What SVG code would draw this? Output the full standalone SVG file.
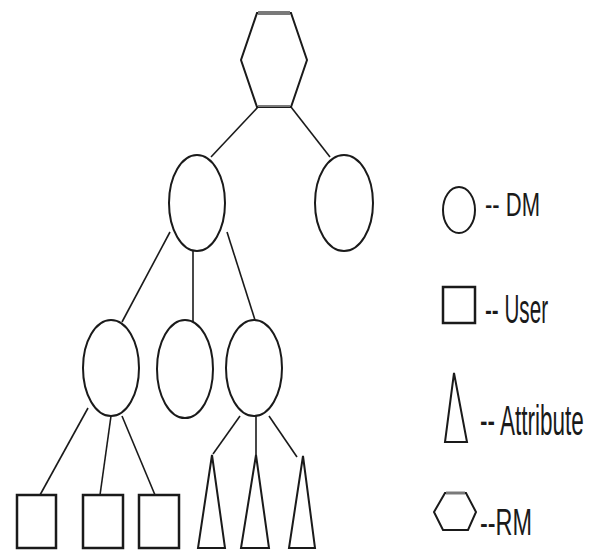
<svg xmlns="http://www.w3.org/2000/svg" width="597" height="552" viewBox="0 0 597 552">
  <style>
    .shape { fill: #fff; stroke: #1a1a1a; stroke-width: 2; }
    .box { fill: #fff; stroke: #1a1a1a; stroke-width: 2.5; }
    .cap { fill: none; stroke: #7a7a7a; stroke-width: 4; }
    .link { fill: none; stroke: #1a1a1a; stroke-width: 1.6; }
    .label { font-family: "Liberation Sans", Arial, sans-serif; fill: #1a1a1a; }
  </style>
  <rect width="597" height="552" fill="#fff"/>

  <!-- tree edges -->
  <g id="connectors">
    <line class="link" x1="258" y1="107" x2="211" y2="157"/>
    <line class="link" x1="291" y1="107" x2="330" y2="157"/>
    <line class="link" x1="170" y1="232" x2="122" y2="322"/>
    <line class="link" x1="193" y1="251" x2="193" y2="322"/>
    <line class="link" x1="227" y1="232" x2="255" y2="320"/>
    <line class="link" x1="88" y1="408" x2="40" y2="495"/>
    <line class="link" x1="111" y1="416" x2="100" y2="495"/>
    <line class="link" x1="122" y1="416" x2="155" y2="495"/>
    <line class="link" x1="240" y1="416" x2="213" y2="454"/>
    <line class="link" x1="256" y1="416" x2="256" y2="455"/>
    <line class="link" x1="269" y1="416" x2="297" y2="457"/>
  </g>

  <!-- root RM -->
  <g id="rm-root">
    <polygon class="shape" points="257,13 291,13 307,60 291,107 257,107 241,60"/>
    <line class="cap" x1="258" y1="13" x2="290" y2="13"/>
    <line class="cap" x1="258" y1="106" x2="290" y2="106" style="stroke-width:2"/>
  </g>

  <!-- DM nodes -->
  <g id="dm-1"><ellipse class="shape" cx="197" cy="203" rx="28" ry="48"/></g>
  <g id="dm-2"><ellipse class="shape" cx="344" cy="203" rx="29" ry="48"/></g>
  <g id="dm-3"><ellipse class="shape" cx="111" cy="368" rx="28" ry="48"/></g>
  <g id="dm-4"><ellipse class="shape" cx="185" cy="369" rx="28" ry="49"/></g>
  <g id="dm-5"><ellipse class="shape" cx="254" cy="368" rx="28" ry="48"/></g>

  <!-- users -->
  <g id="user-1"><rect class="box" x="17" y="495" width="39" height="53"/></g>
  <g id="user-2"><rect class="box" x="83" y="495" width="40" height="53"/></g>
  <g id="user-3"><rect class="box" x="139" y="495" width="40" height="53"/></g>

  <!-- attributes -->
  <g id="attr-1"><polygon class="shape" points="212,455 225,548 198,548"/></g>
  <g id="attr-2"><polygon class="shape" points="256,455 269,548 241,548"/></g>
  <g id="attr-3"><polygon class="shape" points="303,456 315,548 289,548"/></g>

  <!-- legend (labels are horizontally condensed) -->
  <g id="legend-dm">
    <ellipse class="shape" cx="459" cy="210" rx="16" ry="23"/>
    <text class="label" transform="translate(485,216) scale(0.667,1)" font-size="33">-- DM</text>
  </g>
  <g id="legend-user">
    <rect class="box" x="443" y="287" width="32" height="36"/>
    <text class="label" transform="translate(485,323) scale(0.516,1)" font-size="40">-- User</text>
  </g>
  <g id="legend-attribute">
    <polygon class="shape" points="454,373 467,442 445,442"/>
    <text class="label" transform="translate(480,435) scale(0.536,1)" font-size="42">-- Attribute</text>
  </g>
  <g id="legend-rm">
    <polygon class="shape" points="445,493 466,493 476,512 468,530 443,530 434,512"/>
    <line class="cap" x1="446" y1="493" x2="465" y2="493" style="stroke-width:3"/>
    <text class="label" transform="translate(480,535) scale(0.634,1)" font-size="37">--RM</text>
  </g>
</svg>
